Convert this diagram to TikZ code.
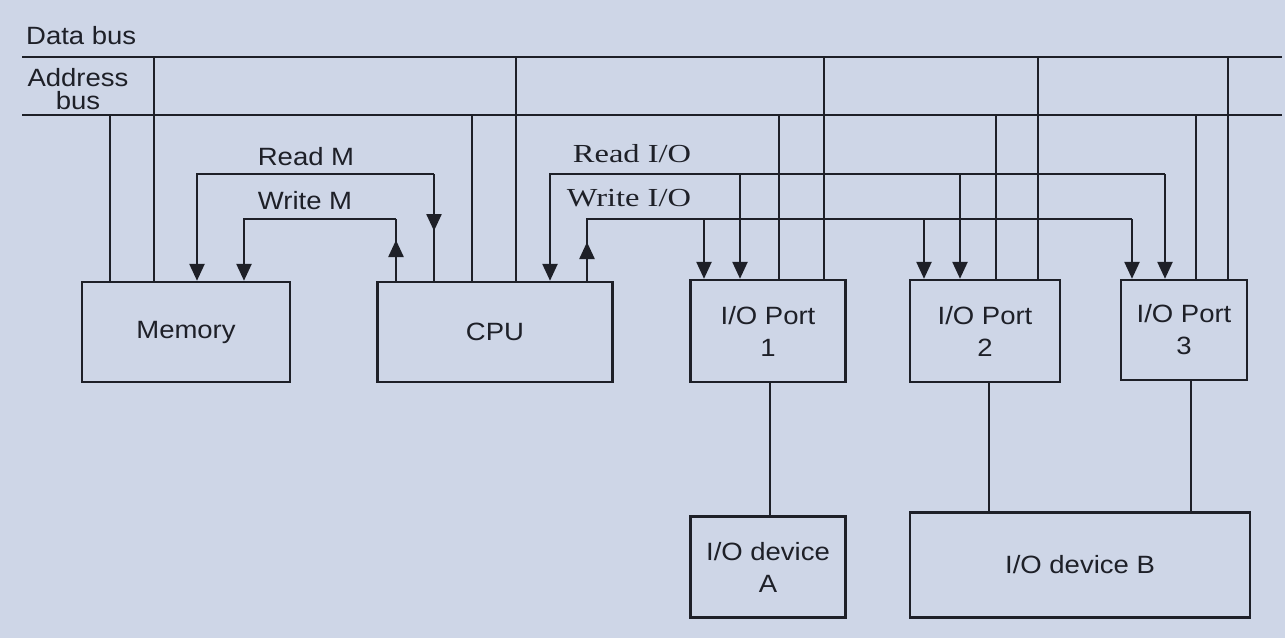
\documentclass[tikz,border=0pt]{standalone}
\usepackage{fontspec}
\setsansfont[FakeStretch=1.1]{Liberation Sans}
\newfontfamily\sigserif[FakeStretch=1.25]{Liberation Serif}
\usetikzlibrary{arrows.meta,positioning}
\definecolor{paper}{RGB}{206,214,231}
\definecolor{ink}{RGB}{30,32,40}

\begin{document}
\begin{tikzpicture}[
  x=1pt,y=-1pt,
  font={\sffamily\fontsize{25}{32}\selectfont},
  box/.style={draw=ink,line width=2.4pt,align=center,inner sep=0pt,text=ink},
  wire/.style={draw=ink,line width=2.4pt},
  arr/.style={wire,-{Triangle[length=17pt,width=15pt]}},
  lbl/.style={text=ink,inner sep=0pt},
  siglbl/.style={lbl,font={\sigserif\fontsize{26}{28}\selectfont}}
]
\fill[paper] (0,0) rectangle (1285,638);
\useasboundingbox (0,0) rectangle (1285,638);

\coordinate (dataL) at (22,57);
\coordinate (dataR) at (1282,57);
\coordinate (addrL) at (22,115);
\coordinate (addrR) at (1282,115);
\draw[wire] (dataL) -- (dataR);
\draw[wire] (addrL) -- (addrR);
\node[lbl,anchor=west] (datalbl) at (26,36) {Data bus};
\node[lbl,align=center,font={\sffamily\fontsize{25}{23}\selectfont}] (addrlbl) at (78,89) {Address\\bus};

\node[box,minimum width=208pt,minimum height=100pt] (mem) at (186,332) {Memory};
\node[box,minimum width=235pt,minimum height=100pt] (cpu) at (495,332) {CPU};
\node[box,minimum width=155pt,minimum height=102pt] (port1) at (768,331) {I/O Port\\1};
\node[box,minimum width=150pt,minimum height=102pt] (port2) at (985,331) {I/O Port\\2};
\node[box,minimum width=126pt,minimum height=100pt] (port3) at (1184,330) {I/O Port\\3};
\node[box,minimum width=155pt,minimum height=101pt] (devA) at (768,567) {I/O device\\A};
\node[box,minimum width=340pt,minimum height=105pt] (devB) at (1080,565) {I/O device B};

\foreach \n/\xa/\xd in {mem/110/154,cpu/472/516,port1/779/824,port2/996/1038,port3/1196/1228}{
  \draw[wire] (addrL -| \xa,0) -- (\n.north -| \xa,0);
  \draw[wire] (dataL -| \xd,0) -- (\n.north -| \xd,0);
}

\coordinate (rdM) at (434,174);
\coordinate (wrM) at (396,219);
\draw[arr] (rdM) -| (mem.north -| 197,0);
\draw[arr] (rdM) -- (434,231);
\draw[wire] (434,225) -- (cpu.north -| 434,0);
\draw[arr] (wrM) -| (mem.north -| 244,0);
\draw[arr] (cpu.north -| 396,0) -- (396,240);
\draw[wire] (396,245) -- (wrM);
\node[lbl] (rdMlbl) at (306,157) {Read M};
\node[lbl] (wrMlbl) at (305,201) {Write M};

\coordinate (rdIO) at (1165,174);
\coordinate (wrIO) at (1132,219);
\draw[arr] (rdIO) -| (cpu.north -| 550,0);
\draw[arr] (cpu.north -| 587,0) -- (587,242);
\draw[wire] (587,247) |- (wrIO);
\foreach \n/\xr/\xw in {port1/740/704,port2/960/924,port3/1165/1132}{
  \draw[arr] (rdIO -| \xr,0) -- (\n.north -| \xr,0);
  \draw[arr] (wrIO -| \xw,0) -- (\n.north -| \xw,0);
}
\node[siglbl] (rdIOlbl) at (632,154) {Read I/O};
\node[siglbl] (wrIOlbl) at (629,198) {Write I/O};

\draw[wire] (port1.south -| 770,0) -- (devA.north -| 770,0);
\draw[wire] (port2.south -| 989,0) -- (devB.north -| 989,0);
\draw[wire] (port3.south -| 1191,0) -- (devB.north -| 1191,0);
\end{tikzpicture}
\end{document}
